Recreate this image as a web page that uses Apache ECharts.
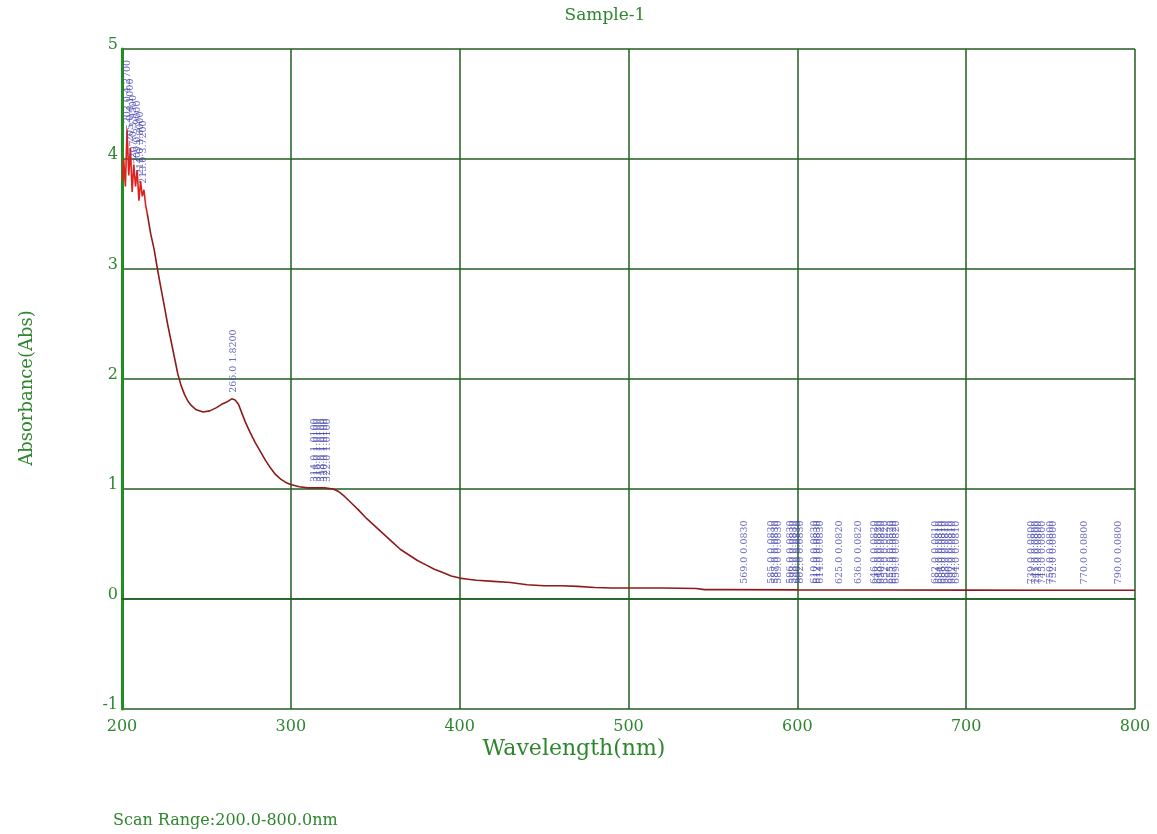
<!DOCTYPE html>
<html>
<head>
<meta charset="utf-8">
<script src="https://cdn.jsdelivr.net/npm/echarts@6/dist/echarts.min.js"></script>
<style>
html,body{margin:0;padding:0;background:#fff;}
#main{width:1157px;height:834px;}
</style>
</head>
<body>
<div id="main"></div>
<script>
/* noisy start of the scan (bright red) */
var noiseNm  = [200,201,202,203,204,205,206,207,208,209,210,211,212,213,214,215];
var noiseAbs = [3.80,4.00,3.75,4.27,3.85,4.10,3.70,3.95,3.75,3.90,3.62,3.80,3.66,3.72,3.58,3.50];

/* rest of the spectrum */
var scanNm  = [215,217,219,221,223,225,227,229,231,233,235,237,239,241,244,248,252,256,259,262,265,267,269,271,273,276,279,282,285,288,291,294,297,300,305,310,315,320,325,328,332,336,340,345,350,355,360,365,370,375,380,385,390,395,400,405,410,420,430,440,450,460,470,480,490,500,520,540,545,560,600,650,700,750,800];
var scanAbs = [3.50,3.32,3.18,3.00,2.83,2.67,2.50,2.35,2.20,2.05,1.94,1.86,1.80,1.76,1.72,1.70,1.71,1.74,1.77,1.79,1.82,1.81,1.77,1.69,1.61,1.51,1.42,1.34,1.26,1.19,1.13,1.09,1.06,1.04,1.02,1.01,1.01,1.01,1.00,0.98,0.93,0.87,0.81,0.73,0.66,0.59,0.52,0.45,0.40,0.35,0.31,0.27,0.24,0.21,0.19,0.18,0.17,0.16,0.15,0.13,0.12,0.12,0.115,0.105,0.10,0.10,0.10,0.095,0.085,0.085,0.083,0.082,0.081,0.080,0.080];

/* peak pick labels */
var peakNm  = [203,205,207,209,211,213,266,314,316,318,320,322,569,585,587,589,596,598,600,602,610,612,614,625,636,646,648,650,652,655,657,659,682,684,686,688,690,692,694,739,741,743,745,750,752,770,790];
var peakAbs = [4.27,4.10,3.95,3.90,3.80,3.72,1.82,1.01,1.01,1.01,1.01,1.01,0.083,0.083,0.083,0.083,0.083,0.083,0.083,0.083,0.083,0.083,0.083,0.082,0.082,0.082,0.082,0.082,0.082,0.082,0.082,0.082,0.081,0.081,0.081,0.081,0.081,0.081,0.081,0.080,0.080,0.080,0.080,0.080,0.080,0.080,0.080];

var xTicks = [200,300,400,500,600,700,800];
var yTicks = [-1,0,1,2,3,4,5];

var green = '#2f862f';
var gridGreen = '#215e21';
var serif = '"DejaVu Serif",serif';

function pairs(xs, ys){
  return xs.map(function(x,i){ return [x, ys[i]]; });
}

var myChart = echarts.init(document.getElementById('main'));
var option = {
  backgroundColor: '#fff',
  animation: false,
  title: {
    text: 'Sample-1',
    left: 600, top: 2, textAlign: 'center',
    textStyle: {color: green, fontFamily: serif, fontSize: 17, fontWeight: 'normal'}
  },
  grid: {left: 122, top: 49, right: 22, bottom: 125},
  xAxis: {
    type: 'value', min: xTicks[0], max: xTicks[xTicks.length-1], interval: 100,
    axisLine: {show: true, lineStyle: {color: gridGreen, width: 1.5}},
    axisTick: {show: false},
    axisLabel: {color: green, fontFamily: serif, fontSize: 16, margin: 10},
    splitLine: {show: true, lineStyle: {color: gridGreen, width: 1.5}}
  },
  yAxis: {
    type: 'value', min: yTicks[0], max: yTicks[yTicks.length-1], interval: 1,
    axisLine: {show: true, onZero: false, lineStyle: {color: '#1f8f1f', width: 3}},
    axisTick: {show: false},
    axisLabel: {color: green, fontFamily: serif, fontSize: 16, margin: 4,
      verticalAlign: 'bottom', lineHeight: 9},
    splitLine: {show: true, lineStyle: {color: gridGreen, width: 1.5}}
  },
  graphic: [
    {type: 'text', x: 574, y: 749,
     style: {text: 'Wavelength(nm)', fill: green, font: '22px ' + serif,
             textAlign: 'center', textVerticalAlign: 'middle'}},
    {type: 'text', x: 27, y: 388, rotation: Math.PI/2,
     style: {text: 'Absorbance(Abs)', fill: green, font: '18px ' + serif,
             textAlign: 'center', textVerticalAlign: 'middle'}},
    {type: 'text', x: 113, y: 821,
     style: {text: 'Scan Range:200.0-800.0nm', fill: green, font: '16px ' + serif,
             textAlign: 'left', textVerticalAlign: 'middle'}}
  ],
  series: [
    {
      type: 'line', data: pairs(scanNm, scanAbs), showSymbol: false,
      lineStyle: {color: '#8e1b1b', width: 1.6}, z: 3
    },
    {
      type: 'line', data: pairs(noiseNm, noiseAbs), showSymbol: false,
      lineStyle: {color: '#e0201c', width: 1.6}, z: 3
    },
    {
      type: 'scatter', data: pairs(peakNm, peakAbs), symbolSize: 0, z: 4,
      label: {
        show: true, position: 'top', distance: 6, rotate: 90,
        align: 'left', verticalAlign: 'middle',
        color: '#4646b0', fontFamily: serif, fontSize: 9.5,
        formatter: function(p){ return p.value[0].toFixed(1) + ' ' + p.value[1].toFixed(4); }
      }
    }
  ]
};
myChart.setOption(option);
</script>
</body>
</html>
